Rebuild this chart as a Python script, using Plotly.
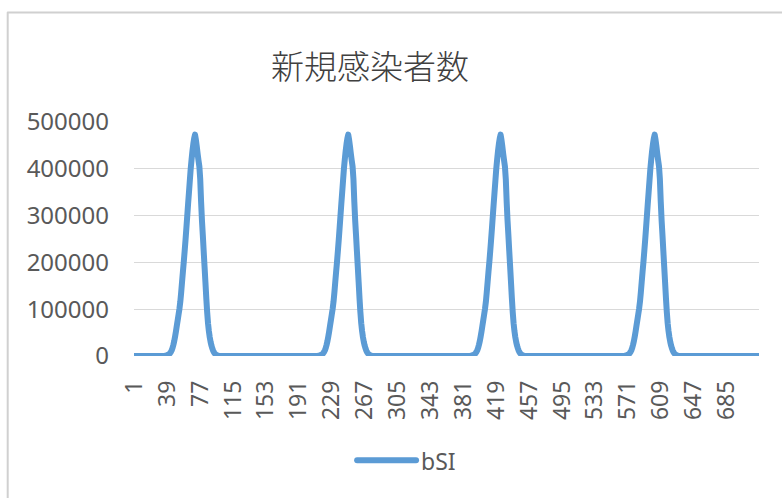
import plotly.graph_objects as go

# Daily new infections (bSI), 722 simulated days
n_days = 722

# Shape of one epidemic wave: values from 38 days before the peak to 29 days after
wave_start_offset = -38
wave_values = [
    0, 100, 200, 400, 700, 1100, 1700, 2600, 3900, 5800,
    8500, 12000, 17000, 24000, 32000, 42000, 53000, 65000, 77000, 89000,
    101000, 116000, 136000, 158000, 180000, 201000, 224000, 248000, 273000, 299000,
    325000, 350000, 375000, 400000, 420000, 438000, 453000, 465000,
    473000,
    462000, 448000, 432000, 418000, 405000, 378000, 330000, 290000, 258000, 224000,
    191000, 158000, 124000, 94000, 70000, 53000, 40000, 30000, 22000, 16000,
    11000, 7500, 5000, 3200, 2000, 1100, 500, 200, 0,
]
# Day on which each wave peaks
wave_peak_days = [71, 248, 424, 602]

x_tick_labels = [1, 39, 77, 115, 153, 191, 229, 267, 305, 343,
                 381, 419, 457, 495, 533, 571, 609, 647, 685]
y_tick_values = [0, 100000, 200000, 300000, 400000, 500000]

days = list(range(1, n_days + 1))
new_cases = [0] * n_days
for peak in wave_peak_days:
    for i, v in enumerate(wave_values):
        d = peak + wave_start_offset + i
        if 1 <= d <= n_days:
            new_cases[d - 1] = v

W, H = 782, 498
L, R, T, B = 133.5, 22.5, 121.7, 142.0
pw, ph = W - L - R, H - T - B

def px_x(x):
    return (x - L) / pw

def px_y(y):
    return (H - B - y) / ph

blue = "#5B9BD5"
grey_text = "#595959"
x_tick_font = dict(family="Noto Sans, Open Sans, sans-serif", size=23, color=grey_text)
y_tick_font = dict(family="Noto Sans, Open Sans, sans-serif", size=24, color=grey_text)

fig = go.Figure()
fig.add_trace(go.Scatter(
    x=days, y=new_cases, mode="lines", name="bSI",
    line=dict(color=blue, width=6, simplify=False),
    showlegend=False, hoverinfo="skip",
))

fig.update_layout(
    width=W, height=H,
    margin=dict(l=L, r=R, t=T, b=B),
    paper_bgcolor="white", plot_bgcolor="white",
    title=dict(
        text="新規感染者数",
        x=370 / W, xanchor="center", xref="container",
        y=1 - 67 / H, yanchor="middle", yref="container",
        font=dict(family="Noto Sans CJK JP", size=33, color="#404040", weight=300),
    ),
    xaxis=dict(
        range=[0.5, n_days + 0.5],
        tickmode="array", tickvals=x_tick_labels,
        ticktext=[str(v) for v in x_tick_labels],
        tickangle=-90, tickfont=x_tick_font,
        showgrid=False, zeroline=False, showline=False,
        ticks="", ticklabelstandoff=19,
    ),
    yaxis=dict(
        range=[0, 500000],
        tickmode="array", tickvals=y_tick_values,
        ticktext=[str(v) for v in y_tick_values],
        tickfont=y_tick_font,
        showgrid=True, gridcolor="#D9D9D9", gridwidth=1.2,
        zeroline=False, showline=False,
        ticks="", ticklabelstandoff=24,
    ),
    shapes=[
        # chart area frame (continues past the right and bottom edges)
        dict(type="rect", xref="paper", yref="paper",
             x0=px_x(7), x1=px_x(800), y0=px_y(520), y1=px_y(12),
             line=dict(color="#D0D0D0", width=2), fillcolor="rgba(0,0,0,0)",
             layer="below"),
        # legend key
        dict(type="line", xref="paper", yref="paper",
             x0=px_x(357), x1=px_x(416), y0=px_y(460.5), y1=px_y(460.5),
             line=dict(color=blue, width=6)),
    ],
    annotations=[
        dict(text="bSI", xref="paper", yref="paper",
             x=px_x(419), y=px_y(461), xanchor="left", yanchor="middle",
             showarrow=False,
             font=dict(family="Noto Sans, Open Sans, sans-serif", size=23, color=grey_text)),
    ],
)

# round joins and caps on the series line and the legend key
round_js = """
document.querySelectorAll('.js-line, .shapelayer path').forEach(function(p){
  p.style.strokeLinejoin = 'round';
  p.style.strokeLinecap = 'round';
});
"""
fig.write_html("out.html", post_script=round_js)
